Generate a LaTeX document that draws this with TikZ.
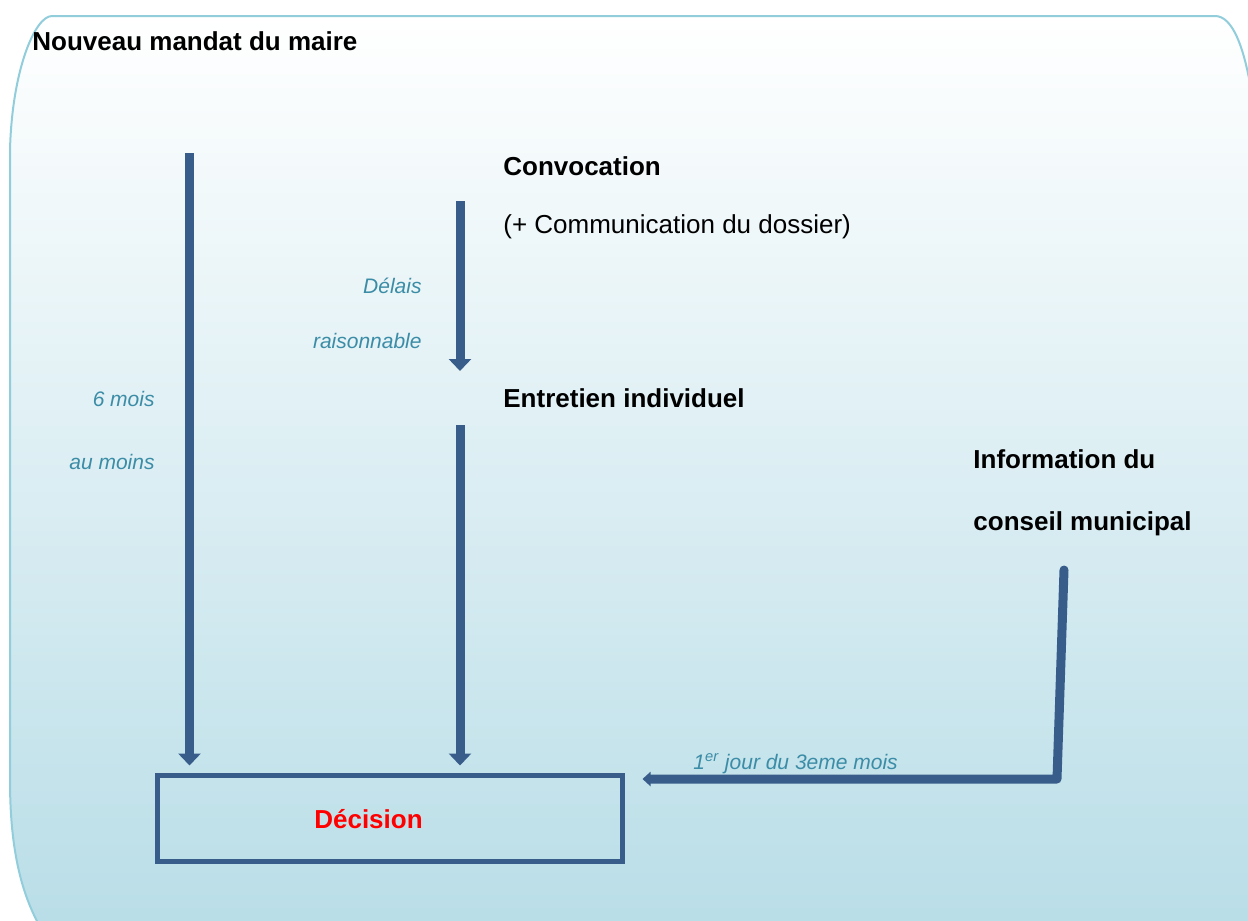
\documentclass[tikz,border=0pt]{standalone}
\usepackage{fontspec}
\setmainfont{Liberation Sans}
\usetikzlibrary{arrows.meta, positioning, calc}
\definecolor{arrowblue}{HTML}{385D8A}
\definecolor{delayteal}{HTML}{3B8CA6}
\definecolor{panelblue}{HTML}{B8DDE7}
\definecolor{panelline}{HTML}{92CDDC}
\tikzset{
  flowarrow/.style={-{Triangle[width=11pt,length=6pt]}, line width=4.5pt, color=arrowblue},
  infoarrow/.style={-{Triangle[width=7pt,length=4pt]}, line width=4.5pt, color=arrowblue,
    line cap=round, line join=round},
  steplabel/.style={anchor=base west, inner sep=0pt, font=\fontsize{13}{15}\selectfont\bfseries},
  notelabel/.style={anchor=base west, inner sep=0pt, font=\fontsize{13}{15}\selectfont},
  delaylabel/.style={anchor=base east, inner sep=0pt,
    font=\fontsize{10.5}{12}\selectfont\itshape, text=delayteal},
  decisionbox/.style={rectangle, draw=arrowblue, line width=2.5pt,
    minimum width=232.5pt, minimum height=43pt, inner sep=0pt},
}
\begin{document}
\begin{tikzpicture}[x=0.5pt,y=-0.5pt]
  \useasboundingbox (0,0) rectangle (1248,921);
  \clip (0,0) rectangle (1248,921);
  \path[top color=white, bottom color=panelblue, draw=panelline, line width=1pt]
    (10,780) -- (10,150) .. controls (12,70) and (35,16) .. (52,16)
    -- (1215,16) .. controls (1232,16) and (1244,45) .. (1252,95)
    -- (1262,940) -- (48,940) .. controls (25,905) and (10,860) .. (10,780) -- cycle;
  \node[steplabel](mandat) at (32,50){Nouveau mandat du maire};
  \node[steplabel](convoc) at (503,175){Convocation};
  \node[notelabel](dossier) at (503,233){(+ Communication du dossier)};
  \node[delaylabel](delais) at (422,293){Délais};
  \node[delaylabel](raison) at (422,348){raisonnable};
  \node[steplabel](entretien) at (503,407){Entretien individuel};
  \node[delaylabel](sixmois) at (155,406){6 mois};
  \node[delaylabel](aumoins) at (155,469){au moins};
  \node[steplabel](info) at (973,468){Information du};
  \node[steplabel](conseil) at (973,530){conseil municipal};
  \node[decisionbox](decision) at (389.5,818){};
  \node[anchor=base, inner sep=0pt, text=red,
        font=\fontsize{13}{15}\selectfont\bfseries](decisiontext) at (368.5,828){Décision};
  \coordinate (mandatstart) at (189.5,153);
  \coordinate (convocstart) at (460,201);
  \coordinate (convocend) at (460,371);
  \coordinate (entretienstart) at (460,425);
  \coordinate (infostart) at (1064,570);
  \coordinate (infocorner) at (1057,779);
  \draw[flowarrow,shorten >=3.5pt](mandatstart)--(mandatstart|-decision.north);
  \draw[flowarrow](convocstart)--(convocend);
  \draw[flowarrow,shorten >=3.5pt](entretienstart)--(entretienstart|-decision.north);
  \draw[infoarrow,shorten >=9pt](infostart)--(infocorner)--(infocorner-|decision.east);
  \node[anchor=base west, inner sep=0pt, font=\fontsize{10.5}{12}\selectfont\itshape,
        text=delayteal](delaytext) at (693,769){1\textsuperscript{er} jour du 3eme mois};
\end{tikzpicture}
\end{document}
